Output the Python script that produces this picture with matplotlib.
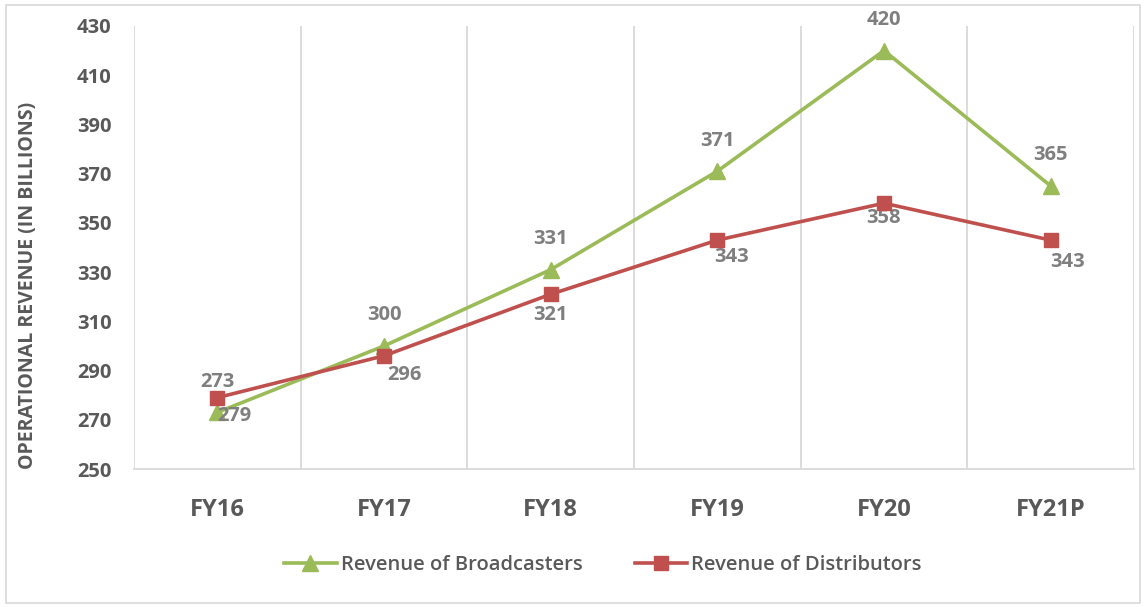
import numpy as np
from matplotlib import pyplot as plt
from matplotlib.patches import Rectangle
from matplotlib.lines import Line2D

years = ['FY16', 'FY17', 'FY18', 'FY19', 'FY20', 'FY21P']
broadcasters = [273, 300, 331, 371, 420, 365]
distributors = [279, 296, 321, 343, 358, 343]

green = '#9BBB59'
red = '#C0504D'
txt = '#595959'
lbl = '#7F7F7F'
grid = '#D9D9D9'

plt.rcParams['font.family'] = ['Open Sans', 'DejaVu Sans']

fig = plt.figure(figsize=(11.45, 6.07), dpi=100)
ax = fig.add_axes([0.117, 0.2273, 0.8734, 0.7299])

x = np.arange(len(years))
ax.plot(x, broadcasters, color=green, lw=2.6, marker='^', ms=11, zorder=3)
ax.plot(x, distributors, color=red, lw=2.6, marker='s', ms=10, zorder=4)

# data labels: broadcasters above, distributors below
for i, v in enumerate(broadcasters):
    ax.annotate(str(v), (i, v), xytext=(0, 22), textcoords='offset points',
                ha='center', va='center', fontsize=14.5, fontweight='bold', color=lbl)
red_dx = [12, 15, 0, 10, 0, 12]
red_dy = [-13, -14, -15, -12, -11, -16]
for i, v in enumerate(distributors):
    ax.annotate(str(v), (i, v), xytext=(red_dx[i], red_dy[i]), textcoords='offset points',
                ha='center', va='center', fontsize=14.5, fontweight='bold', color=lbl)

ax.set_xlim(-0.5, len(years) - 0.5)
ax.set_ylim(250, 430)
ax.set_yticks(np.arange(250, 431, 20))
ax.set_xticks(x)
ax.set_xticklabels(years)
ax.set_xticks(np.arange(-0.5, len(years), 1), minor=True)
ax.grid(True, which='minor', axis='x', color=grid, lw=1.3)
ax.tick_params(which='both', length=0)
ax.tick_params(axis='y', pad=16, labelsize=14.5, labelcolor=txt)
ax.tick_params(axis='x', pad=21, labelsize=17, labelcolor=txt)
for t in ax.get_yticklabels() + ax.get_xticklabels():
    t.set_fontweight('bold')
for s in ['top', 'right', 'left']:
    ax.spines[s].set_visible(False)
ax.spines['bottom'].set_color(grid)
ax.spines['bottom'].set_linewidth(1.3)

fig.text(28 / 1145, 1 - 285 / 607, 'OPERATIONAL REVENUE (IN BILLIONS)', rotation=90,
         ha='center', va='center', fontsize=14, fontweight='bold', color=txt)

handles = [Line2D([], [], color=green, lw=2.6, marker='^', ms=11),
           Line2D([], [], color=red, lw=2.6, marker='s', ms=10)]
fig.legend(handles, ['Revenue of Broadcasters', 'Revenue of Distributors'],
           loc='center', bbox_to_anchor=(603 / 1145, 1 - 565 / 607), ncol=2,
           frameon=False, labelcolor=txt, handlelength=2.6,
           handletextpad=0.2, columnspacing=2.6,
           prop={'weight': 'semibold', 'size': 14.5})

fig.patches.append(Rectangle((6 / 1145, 4 / 607), 1134 / 1145, 598 / 607,
                             transform=fig.transFigure, fill=False,
                             edgecolor=grid, lw=1.2))

plt.savefig('out.png', dpi=100)
